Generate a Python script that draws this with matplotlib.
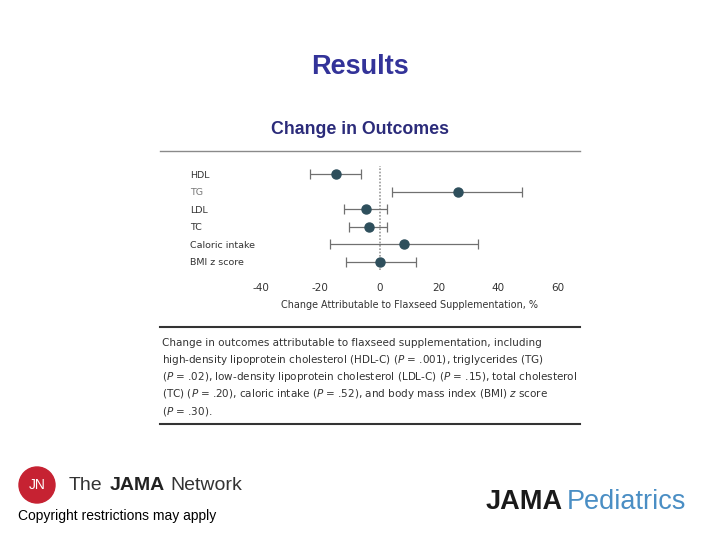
import matplotlib
matplotlib.use('Agg')
import matplotlib.pyplot as plt
from matplotlib.patches import Ellipse
from matplotlib.lines import Line2D

# 森林图数据
outcomes = ['HDL', 'TG', 'LDL', 'TC', 'Caloric intake', 'BMI z score']
est = [-14.8, 26.3, -4.7, -3.7, 8.2, 0.2]
ci_low = [-23.6, 4.2, -11.9, -10.2, -16.6, -11.5]
ci_high = [-6.4, 48.0, 2.5, 2.5, 33.3, 12.2]
xticks = [-40, -20, 0, 20, 40, 60]

caption = ["Change in outcomes attributable to flaxseed supplementation, including",
           "high-density lipoprotein cholesterol (HDL-C) ($\\it{P}$ = .001), triglycerides (TG)",
           "($\\it{P}$ = .02), low-density lipoprotein cholesterol (LDL-C) ($\\it{P}$ = .15), total cholesterol",
           "(TC) ($\\it{P}$ = .20), caloric intake ($\\it{P}$ = .52), and body mass index (BMI) $\\it{z}$ score",
           "($\\it{P}$ = .30)."]

W, H = 720, 540
fig = plt.figure(figsize=(7.2, 5.4), dpi=100)


def fx(px):
    return px / W


def fy(py):
    return 1 - py / H


navy = '#333399'
fig.text(fx(360), fy(67), 'Results', ha='center', va='center', fontsize=19.5,
         fontweight='bold', color=navy, family='Liberation Sans')
fig.text(fx(360), fy(129), 'Change in Outcomes', ha='center', va='center', fontsize=12.8,
         fontweight='bold', color='#2b2b7a', family='Liberation Sans')

# 上面的细线
fig.add_artist(Line2D([fx(160), fx(580)], [fy(151), fy(151)], color='#8a8a8a', lw=1))

# 主图
row0, step = 174.3, 17.44
top = row0 - 0.5 * step
bot = row0 + 5.5 * step
ax = fig.add_axes([fx(261), fy(bot), fx(557.6) - fx(261), (bot - top) / H])
ys = list(range(len(outcomes)))
xerr = [[e - l for e, l in zip(est, ci_low)], [h - e for e, h in zip(est, ci_high)]]
ax.axvline(0, color='#9a9a9a', lw=1.2, ls=(0, (1, 1)), zorder=1)
ax.errorbar(est, ys, xerr=xerr, fmt='o', color='#2e4f5c', ecolor='#707070',
            elinewidth=0.9, capsize=3.5, capthick=0.9, markersize=6.5, zorder=3)
ax.set_xlim(-40, 60)
ax.set_ylim(5.5, -0.5)
ax.set_xticks(xticks)
ax.set_xticklabels([str(t) for t in xticks])
ax.set_yticks(ys)
ax.set_yticklabels(outcomes)
for s in ax.spines.values():
    s.set_visible(False)
ax.tick_params(axis='x', length=0, pad=9, labelsize=7.5, labelcolor='#333333')
ax.tick_params(axis='y', length=0, pad=51, labelsize=6.8, labelcolor='#333333')
for lab in ax.get_yticklabels():
    lab.set_ha('left')
ax.get_yticklabels()[1].set_color('#777777')
ax.set_xlabel('Change Attributable to Flaxseed Supplementation, %', fontsize=6.9,
              color='#333333', labelpad=5)
ax.patch.set_alpha(0)

# 说明文字
fig.add_artist(Line2D([fx(160), fx(580)], [fy(327), fy(327)], color='#333333', lw=1.5))
fig.add_artist(Line2D([fx(160), fx(580)], [fy(424), fy(424)], color='#333333', lw=1.5))
for i, line in enumerate(caption):
    fig.text(fx(162), fy(343 + i * 17), line, ha='left', va='center', fontsize=7.5,
             color='#333333', family='DejaVu Sans')

# 左下角 logo
fig.add_artist(Ellipse((fx(37), fy(485)), 36 / W, 36 / H, color='#c62232',
                       transform=fig.transFigure))
fig.text(fx(37), fy(485), 'JN', ha='center', va='center', fontsize=10, color='white',
         family='Liberation Sans')
fig.text(fx(69), fy(486), 'The', ha='left', va='center', fontsize=14, color='#333333',
         family='Liberation Sans')
fig.text(fx(110), fy(486), 'JAMA', ha='left', va='center', fontsize=14, color='#222222',
         fontweight='bold', family='Liberation Sans')
fig.text(fx(170), fy(486), 'Network', ha='left', va='center', fontsize=14, color='#333333',
         family='Liberation Sans')
fig.text(fx(18), fy(516), 'Copyright restrictions may apply', ha='left', va='center',
         fontsize=10, color='black', family='Liberation Sans')

# 右下角
fig.text(fx(486), fy(502), 'JAMA', ha='left', va='center', fontsize=19.5, color='#1a1a1a',
         fontweight='bold', family='Liberation Sans')
fig.text(fx(567), fy(502), 'Pediatrics', ha='left', va='center', fontsize=19.5,
         color='#4a8ec4', family='Liberation Sans')

fig.savefig('out.png', dpi=100)
